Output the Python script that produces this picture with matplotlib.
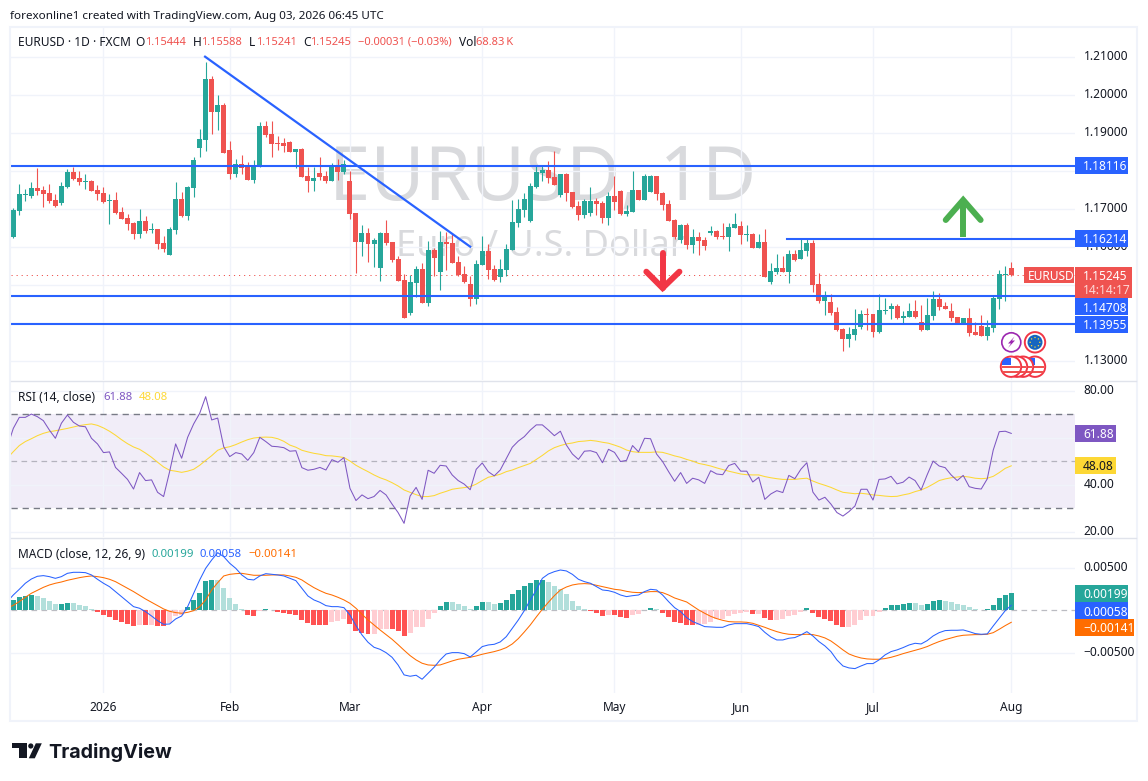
import numpy as np
import matplotlib
matplotlib.use('Agg')
import matplotlib.pyplot as plt
from matplotlib.patches import Circle, Polygon, Rectangle

plt.rcParams['font.family'] = ['Noto Sans', 'DejaVu Sans']

# Daily candles, i = 0 is the first bar on screen
bar_open = [
    1.16264, 1.16939, 1.17360, 1.17334, 1.17544, 1.17492, 1.17413, 1.17228, 1.17149, 1.17571,
    1.17965, 1.17807, 1.17702, 1.17728, 1.17492, 1.17413, 1.17202, 1.17228, 1.16913, 1.16755,
    1.16623, 1.16334, 1.16676, 1.16439, 1.16465, 1.16097, 1.15781, 1.16439, 1.17255, 1.16807,
    1.17544, 1.18597, 1.18807, 1.20413, 1.19544, 1.19728, 1.18544, 1.17913, 1.18176, 1.18097,
    1.17755, 1.18097, 1.19176, 1.18965, 1.18728, 1.18728, 1.18755, 1.18492, 1.18571, 1.17860,
    1.17728, 1.17939, 1.17860, 1.17728, 1.18123, 1.17965,
    1.17729, 1.16887, 1.16124, 1.16360, 1.16071, 1.15439, 1.16360, 1.16124, 1.15676, 1.15124,
    1.14255, 1.15045, 1.15413, 1.14518, 1.15913, 1.15334, 1.16124, 1.16097, 1.15597, 1.15282,
    1.15018, 1.14624, 1.15518, 1.15887, 1.15413, 1.15203, 1.15387, 1.15913, 1.16624, 1.16966,
    1.16676, 1.17571, 1.17939, 1.18018, 1.17834, 1.17360, 1.17913, 1.17439, 1.17071, 1.16834,
    1.16887, 1.17203, 1.17150, 1.16755, 1.17334, 1.17466, 1.16861, 1.16913, 1.17492, 1.17229,
    1.17439, 1.17860, 1.17413, 1.17124, 1.16703, 1.16176,
    1.16571, 1.16045, 1.16255, 1.16176, 1.16360, 1.16413, 1.16281, 1.16255, 1.16492, 1.16545,
    1.16308, 1.16334, 1.15966, 1.16124, 1.15071, 1.15334, 1.15439, 1.15334, 1.15808, 1.15676,
    1.15887, 1.16097, 1.15018, 1.14571, 1.14545, 1.14281, 1.13834, 1.13571, 1.13676, 1.13887,
    1.14229, 1.14229, 1.13755, 1.14308, 1.14360, 1.14439, 1.14124, 1.14150, 1.14308, 1.14018,
    1.13808, 1.14176, 1.14624, 1.14439, 1.14308, 1.14150, 1.13966, 1.14124, 1.13755, 1.13913,
    1.13650, 1.13860, 1.14624, 1.15255, 1.15444,
]
bar_high = [
    1.17009, 1.17649, 1.17518, 1.17702, 1.18071, 1.17597, 1.17649, 1.17386, 1.17702, 1.18044,
    1.18097, 1.17992, 1.17913, 1.17755, 1.17623, 1.17571, 1.17386, 1.17439, 1.17044, 1.16860,
    1.16650, 1.16992, 1.16807, 1.16623, 1.16465, 1.16281, 1.16518, 1.17702, 1.17439, 1.17597,
    1.18360, 1.19097, 1.20860, 1.20492, 1.19992, 1.19781, 1.18781, 1.18307, 1.18413, 1.18228,
    1.18281, 1.19281, 1.19307, 1.19307, 1.18913, 1.18860, 1.18781, 1.18571, 1.18597, 1.18097,
    1.18097, 1.18360, 1.17992, 1.18202, 1.18307, 1.18281,
    1.17992, 1.16887, 1.16571, 1.16492, 1.16229, 1.16387, 1.16703, 1.16124, 1.15755, 1.15282,
    1.15255, 1.15492, 1.15571, 1.16150, 1.15966, 1.16413, 1.16387, 1.16334, 1.15755, 1.15492,
    1.15229, 1.15650, 1.16282, 1.16071, 1.15518, 1.15676, 1.16071, 1.17229, 1.17255, 1.17413,
    1.17676, 1.18124, 1.18124, 1.18255, 1.18518, 1.17913, 1.17939, 1.17439, 1.17203, 1.17255,
    1.17571, 1.17282, 1.17203, 1.17439, 1.17860, 1.17492, 1.17097, 1.17992, 1.17492, 1.17913,
    1.17887, 1.17860, 1.17439, 1.17229, 1.16729, 1.16597,
    1.16624, 1.16466, 1.16387, 1.16255, 1.16545, 1.16439, 1.16624, 1.16624, 1.16887, 1.16676,
    1.16571, 1.16360, 1.16334, 1.16466, 1.15571, 1.15808, 1.15755, 1.15913, 1.15913, 1.16229,
    1.16229, 1.16176, 1.15308, 1.14834, 1.14755, 1.14413, 1.13860, 1.13887, 1.14360, 1.14334,
    1.14387, 1.14229, 1.14755, 1.14650, 1.14518, 1.14492, 1.14308, 1.14518, 1.14597, 1.14466,
    1.14650, 1.14834, 1.14781, 1.14545, 1.14518, 1.14150, 1.14124, 1.14387, 1.14018, 1.14203,
    1.14071, 1.14703, 1.15387, 1.15492, 1.15588,
]
bar_low = [
    1.16228, 1.16834, 1.17202, 1.17281, 1.17360, 1.17044, 1.17149, 1.17044, 1.17097, 1.17544,
    1.17755, 1.17623, 1.17518, 1.17465, 1.17228, 1.17149, 1.16597, 1.16860, 1.16728, 1.16439,
    1.16202, 1.16228, 1.16360, 1.16360, 1.15939, 1.15860, 1.15781, 1.16334, 1.16781, 1.16702,
    1.17307, 1.18360, 1.18518, 1.18965, 1.19071, 1.18465, 1.17781, 1.17834, 1.17913, 1.17755,
    1.17676, 1.18097, 1.18886, 1.18360, 1.18544, 1.18492, 1.18492, 1.18071, 1.17834, 1.17439,
    1.17465, 1.17755, 1.17676, 1.17728, 1.17755, 1.17913,
    1.16729, 1.15308, 1.15755, 1.15597, 1.15466, 1.15097, 1.16045, 1.15597, 1.15097, 1.14124,
    1.14203, 1.14676, 1.14518, 1.14439, 1.15229, 1.14860, 1.15387, 1.15571, 1.15229, 1.15045,
    1.14439, 1.14492, 1.15518, 1.15150, 1.15097, 1.15071, 1.15229, 1.15913, 1.16518, 1.16782,
    1.16650, 1.17545, 1.17729, 1.17676, 1.17624, 1.17308, 1.17203, 1.17018, 1.16703, 1.16755,
    1.16808, 1.16834, 1.16624, 1.16571, 1.16966, 1.16834, 1.16808, 1.16913, 1.17229, 1.17229,
    1.17439, 1.17229, 1.16966, 1.16676, 1.16203, 1.16097,
    1.15939, 1.15834, 1.15781, 1.15913, 1.16308, 1.16202, 1.16202, 1.15887, 1.16492, 1.16071,
    1.16150, 1.15966, 1.15966, 1.15203, 1.15018, 1.15282, 1.15334, 1.15045, 1.15624, 1.15676,
    1.15755, 1.14808, 1.14518, 1.14203, 1.14203, 1.13781, 1.13255, 1.13360, 1.13545, 1.13834,
    1.13808, 1.13624, 1.13729, 1.14229, 1.14097, 1.14097, 1.13966, 1.14150, 1.14124, 1.13781,
    1.13808, 1.14071, 1.14334, 1.14360, 1.14045, 1.13966, 1.13966, 1.13650, 1.13676, 1.13650,
    1.13545, 1.13755, 1.14360, 1.14571, 1.15241,
]
bar_close = [
    1.16965, 1.17386, 1.17386, 1.17544, 1.17465, 1.17386, 1.17202, 1.17071, 1.17597, 1.17965,
    1.17781, 1.17702, 1.17728, 1.17465, 1.17386, 1.17176, 1.17228, 1.16886, 1.16728, 1.16597,
    1.16334, 1.16676, 1.16413, 1.16465, 1.16071, 1.15939, 1.16465, 1.17255, 1.16807, 1.17571,
    1.18281, 1.18834, 1.20413, 1.19544, 1.19728, 1.18465, 1.17913, 1.18176, 1.18071, 1.17755,
    1.18150, 1.19176, 1.18939, 1.18702, 1.18702, 1.18650, 1.18492, 1.18571, 1.17834, 1.17728,
    1.17807, 1.17834, 1.17728, 1.18150, 1.17965, 1.18176,
    1.16861, 1.16124, 1.16360, 1.16071, 1.16176, 1.16360, 1.16097, 1.15650, 1.15097, 1.14124,
    1.15071, 1.15413, 1.14518, 1.15913, 1.15703, 1.16124, 1.16071, 1.15571, 1.15255, 1.15071,
    1.14624, 1.15545, 1.15887, 1.15387, 1.15124, 1.15413, 1.15939, 1.16650, 1.16992, 1.17255,
    1.17597, 1.17966, 1.18018, 1.17808, 1.17624, 1.17913, 1.17413, 1.17045, 1.16834, 1.17203,
    1.17203, 1.17124, 1.16755, 1.17334, 1.17176, 1.16861, 1.16939, 1.17492, 1.17229, 1.17860,
    1.17860, 1.17387, 1.17097, 1.16676, 1.16255, 1.16571,
    1.16045, 1.16255, 1.16150, 1.16018, 1.16413, 1.16255, 1.16255, 1.16518, 1.16597, 1.16308,
    1.16334, 1.15966, 1.16124, 1.15203, 1.15360, 1.15439, 1.15334, 1.15808, 1.15650, 1.15913,
    1.16097, 1.14992, 1.14571, 1.14676, 1.14255, 1.13808, 1.13571, 1.13703, 1.13834, 1.14229,
    1.14203, 1.13755, 1.14334, 1.14334, 1.14439, 1.14124, 1.14176, 1.14308, 1.14150, 1.13808,
    1.14203, 1.14624, 1.14413, 1.14360, 1.14124, 1.13966, 1.14124, 1.13729, 1.13676, 1.13650,
    1.13887, 1.14650, 1.15282, 1.15282, 1.15245,
]

# RSI and its average, from one bar left of the screen (i = -1)
rsi_line = [
    56.2, 64.0, 68.7, 68.7, 70.1, 69.0, 67.3, 63.3, 59.8, 66.2, 69.7, 66.6, 65.0, 64.7, 59.8, 57.4,
    53.7, 54.0, 47.4, 44.9, 42.3, 38.2, 45.2, 41.8, 42.1, 36.8, 35.0, 45.6, 57.4, 51.3, 60.2, 65.9,
    70.4, 77.5, 67.6, 68.4, 56.2, 52.0, 53.7, 53.1, 50.4, 53.7, 60.2, 58.4, 56.4, 56.2, 55.8, 54.3,
    54.5, 47.3, 46.2, 46.6, 47.4, 46.3, 50.7, 49.6, 51.6,
    38.5, 33.3, 35.7, 34.1, 35.0, 37.6, 35.7, 31.8, 28.2, 23.6, 35.2, 38.9, 33.8, 46.2, 44.9, 48.3,
    48.0, 44.2, 41.8, 40.3, 37.9, 46.6, 49.3, 45.6, 43.8, 46.3, 51.1, 56.0, 58.6, 60.5, 63.3, 65.5,
    65.5, 63.3, 60.9, 62.8, 56.9, 53.1, 50.8, 54.3, 54.5, 53.7, 49.4, 55.1, 53.8, 49.9, 50.4, 56.7,
    54.0, 59.8, 59.6, 53.1, 49.9, 45.6, 41.5, 45.2,
    40.6, 42.8, 42.1, 40.6, 46.0, 44.6, 44.3, 48.2, 49.1, 45.8, 45.8, 41.2, 43.2, 33.8, 36.1, 37.5,
    36.7, 44.0, 42.6, 46.6, 49.4, 36.9, 33.5, 34.7, 31.8, 28.2, 26.7, 28.6, 31.0, 38.1, 38.1, 33.5,
    42.3, 42.5, 43.6, 40.4, 41.1, 43.3, 41.8, 37.8, 44.2, 50.1, 48.0, 47.3, 44.2, 41.8, 44.0, 39.2,
    38.5, 38.2, 42.5, 54.8, 62.6, 62.8, 61.88,
]
rsi_avg = [
    51.3, 54.1, 56.7, 58.4, 59.6, 60.9, 61.9, 62.6, 63.0, 63.5, 64.0, 64.6, 65.2, 65.6, 65.9, 65.3,
    64.2, 62.8, 61.1, 59.2, 57.5, 56.1, 55.1, 53.5, 51.7, 49.6, 47.6, 46.2, 45.8, 45.3, 45.8, 46.6,
    48.3, 50.4, 52.4, 54.7, 55.7, 56.2, 57.1, 58.2, 59.2, 59.9, 60.2, 60.3, 60.2, 59.6, 58.5, 56.9,
    56.0, 54.7, 54.0, 53.4, 53.0, 52.4, 52.3, 52.0, 51.6,
    50.1, 48.3, 46.9, 45.6, 44.2, 43.0, 42.1, 40.9, 39.5, 37.8, 36.8, 35.8, 35.0, 35.0, 35.4, 36.4,
    37.2, 38.1, 38.5, 38.8, 39.2, 40.3, 41.8, 43.2, 43.8, 44.5, 45.6, 46.3, 47.3, 48.2, 49.1, 50.8,
    52.5, 54.4, 55.8, 56.7, 57.4, 57.8, 58.4, 58.6, 58.9, 58.6, 58.1, 57.7, 56.9, 56.0, 54.8, 54.1,
    53.8, 53.8, 53.8, 54.0, 53.8, 53.1, 52.3, 51.7, 50.8,
    50.1, 49.1, 48.6, 48.0, 47.2, 46.5, 45.8, 45.2, 44.6, 44.3, 44.2, 44.2, 43.5, 43.0, 42.6, 42.3,
    42.3, 42.3, 42.6, 42.8, 41.6, 40.6, 39.8, 38.9, 37.8, 36.8, 36.5, 36.2, 36.4, 36.1, 35.7, 35.5,
    35.2, 35.0, 35.1, 35.7, 36.2, 37.1, 37.8, 38.9, 40.3, 41.8, 42.5, 43.0, 43.3, 43.6, 43.3, 42.8,
    42.6, 42.8, 43.6, 45.2, 47.0, 48.08,
]

# MACD in points of 0.00001. Lines start at i = -1, histogram at i = 0
macd_line = [
    102, 180, 247, 318, 368, 400, 408, 396, 376, 396, 435, 447, 447, 443, 416, 365, 318, 278, 220, 161,
    102, 43, 24, -16, -67, -122, -165, -161, -102, -67, 43, 200, 357, 494, 592, 678, 631, 553, 494, 416,
    365, 357, 404, 431, 423, 416, 404, 376, 349, 259, 169, 122, 94, 55, 43, 43, 31,
    -55, -180, -290, -376, -435, -459, -498, -553, -643, -760, -776, -764, -811, -741, -670, -584, -514, -498,
    -498, -510, -549, -490, -427, -408, -400, -372, -310, -212, -114, -4, 122, 239, 376, 427, 455, 474, 463,
    423, 365, 337, 318, 278, 239, 231, 212, 180, 161, 172, 180, 220, 247, 239, 180, 102, 31, -16,
    -86, -133, -161, -192, -196, -200, -200, -172, -157, -157, -157, -172, -192, -259, -314, -349, -349, -329,
    -321, -290, -251, -302, -368, -419, -486, -584, -655, -678, -686, -655, -627, -627, -584, -525, -486, -466,
    -439, -408, -388, -396, -357, -302, -263, -239, -235, -235, -231, -251, -274, -282, -278, -184, -94, -4, 58,
]
macd_signal = [
    24, 59, 102, 153, 200, 235, 270, 298, 318, 333, 353, 368, 384, 396, 404, 396, 384, 365, 337, 298,
    259, 220, 176, 133, 94, 55, 16, -12, -27, -35, -24, -4, 43, 122, 239, 325, 404, 423, 431, 435,
    423, 412, 412, 412, 416, 416, 416, 404, 388, 357, 310, 267, 231, 200, 180, 153, 122,
    82, 24, -47, -114, -172, -231, -286, -341, -404, -470, -533, -584, -623, -643, -647, -643, -619, -596,
    -576, -564, -553, -537, -517, -502, -486, -466, -439, -396, -333, -255, -172, -78, 12, 94, 172, 239, 274,
    298, 310, 314, 310, 294, 278, 263, 247, 239, 223, 212, 208, 212, 220, 220, 208, 180, 145, 122,
    98, 51, 4, -35, -71, -98, -118, -133, -137, -137, -141, -153, -176, -200, -227, -251, -270, -282,
    -286, -286, -282, -286, -302, -325, -361, -412, -466, -514, -541, -561, -572, -576, -576, -568, -553, -533,
    -510, -490, -470, -451, -427, -396, -368, -345, -325, -306, -294, -290, -286, -286, -282, -263, -223, -180, -141,
]
macd_hist = [
    122, 157, 169, 180, 169, 145, 110, 71, 74, 86, 82, 63, 51, 16, -24, -55, -78, -114, -137, -161,
    -184, -172, -176, -172, -180, -184, -145, -63, -55, 43, 122, 204, 345, 357, 353, 263, 145, 74, 16, -55,
    -67, -8, 16, 8, -20, -31, -43, -55, -114, -149, -169, -172, -176, -137, -125, -102,
    -161, -243, -267, -278, -274, -220, -216, -220, -243, -302, -267, -196, -192, -102, -31, 51, 98, 94,
    74, 51, 16, 51, 98, 94, 74, 86, 122, 192, 239, 286, 321, 353, 357, 333, 286, 251, 192, 110, 51, 16,
    -8, -31, -67, -55, -59, -78, -90, -55, -43, 4, 27, 16, -31, -78, -137, -149,
    -169, -172, -169, -165, -137, -106, -102, -67, -43, -27, -24, -43, -39, -90, -114, -110, -106, -67, -55, -20,
    27, -31, -78, -102, -125, -172, -196, -192, -172, -114, -67, -63, -20, 27, 63, 67, 74, 86, 82, 63, 74,
    110, 122, 110, 98, 74, 63, 39, 16, 4, 16, 63, 145, 180, 199,
]

# Time axis
month_labels = ['2026', 'Feb', 'Mar', 'Apr', 'May', 'Jun', 'Jul', 'Aug']
month_bars = [15, 36, 56, 78, 100, 121, 143, 166]

# Scale ticks and drawn levels. Ticks with an empty label sit behind a tag in the reference
price_ticks = [1.13, 1.14, 1.15, 1.16, 1.17, 1.18, 1.19, 1.20, 1.21]
price_tick_labels = ['1.13000', '', '', '1.16000', '1.17000', '', '1.19000', '1.20000', '1.21000']
rsi_ticks = [20, 40, 60, 80]
rsi_tick_labels = ['20.00', '40.00', '', '80.00']
macd_ticks = [-0.005, 0.005]
macd_tick_labels = ['\u22120.00500', '0.00500']
level_full = [1.18116, 1.14708, 1.13955]
level_short = 1.16214
last_price = 1.15245

W, H = 1148, 781
BLUE = '#2962ff'
GREEN = '#26a69a'
RED = '#ef5350'
PURPLE = '#7e57c2'
YELLOW = '#fdd835'
ORANGE = '#ff6d00'
GRID = '#f0f3fa'
INK = '#131722'


def pane(y0, y1, ylim, ticks, tick_labels):
    ax = fig.add_axes([11 / W, 1 - y1 / H, (1075 - 11) / W, (y1 - y0) / H])
    ax.set_xlim(-0.383, 176.6)
    ax.set_ylim(*ylim)
    for s in ax.spines.values():
        s.set_visible(False)
    ax.yaxis.tick_right()
    ax.set_xticks(month_bars)
    ax.set_yticks(ticks, tick_labels, va='center')
    ax.set_axisbelow(True)
    ax.grid(True, color=GRID, lw=1.0)
    ax.tick_params(length=0, labelsize=8.6, labelcolor=INK, pad=6.2, labelbottom=False)
    return ax


fig = plt.figure(figsize=(W / 100, H / 100), dpi=100, facecolor='white')

# Price pane
ax = pane(28, 380, (1.12492, 1.21755), price_ticks, price_tick_labels)

o, h, l, c = map(np.array, (bar_open, bar_high, bar_low, bar_close))
x = np.arange(len(c))
cols = np.where(c >= o, GREEN, RED)
ax.vlines(x, l, h, colors=cols, lw=0.8, zorder=3)
ax.bar(x, np.abs(c - o), bottom=np.minimum(o, c), width=0.83, color=cols, lw=0, zorder=3)

for lv in level_full:
    ax.axhline(lv, color=BLUE, lw=1.5, zorder=4)
ax.plot([128.7, 176.6], [level_short, level_short], color=BLUE, lw=1.5, zorder=4)
ax.plot([31.9, 76.0], [1.21, 1.16], color=BLUE, lw=1.6, zorder=4)
ax.axhline(last_price, color=RED, lw=0.7, ls=(0, (1.2, 4)), zorder=2)

# Hand drawn arrows
ax.plot([108, 108], [1.15826, 1.14913], color='#f23645', lw=4.3, zorder=5, solid_capstyle='round')
ax.plot([105.3, 108, 110.8], [1.15342, 1.14913, 1.15342], color='#f23645', lw=4.3, zorder=5,
        solid_capstyle='round', solid_joinstyle='miter')
ax.plot([158, 158], [1.16263, 1.17229], color='#4caf50', lw=4.3, zorder=5, solid_capstyle='butt')
ax.plot([155.1, 158, 160.9], [1.16703, 1.17229, 1.16703], color='#4caf50', lw=4.3, zorder=5,
        solid_capstyle='round', solid_joinstyle='miter')

# RSI pane
ax2 = pane(381, 537, (17.79, 84.17), rsi_ticks, rsi_tick_labels)
xs = np.arange(-1, len(c))
ax2.axhspan(30, 70, color=PURPLE, alpha=0.1, lw=0, zorder=0)
ax2.axhline(70, color='#787b86', lw=1.0, ls=(0, (4.5, 3.5)), zorder=1)
ax2.axhline(30, color='#787b86', lw=1.0, ls=(0, (4.5, 3.5)), zorder=1)
ax2.axhline(50, color='#787b86', lw=0.9, alpha=0.5, ls=(0, (4.5, 3.5)), zorder=1)
ax2.plot(xs, rsi_avg, color=YELLOW, lw=0.75, zorder=3)
ax2.plot(xs, rsi_line, color=PURPLE, lw=0.75, zorder=4)

# MACD pane
ax3 = pane(538, 693, (-0.00973, 0.008506), macd_ticks, macd_tick_labels)
ax3.tick_params(labelbottom=True)
ax3.set_xticklabels(month_labels)
ax3.get_xticklabels()[0].set_fontweight('bold')
ax3.tick_params(axis='x', pad=5.5)
hist = np.array(macd_hist) * 1e-5
prev = np.r_[0, hist[:-1]]
hist_cols = np.where(hist >= 0,
                     np.where(hist > prev, GREEN, '#b2dfdb'),
                     np.where(hist < prev, '#ff5252', '#ffcdd2'))
ax3.axhline(0, color='#787b86', lw=0.9, alpha=0.5, ls=(0, (4.5, 3.5)), zorder=1)
ax3.bar(x, hist, width=0.83, color=hist_cols, lw=0, zorder=2)
ax3.plot(xs, np.array(macd_signal) * 1e-5, color=ORANGE, lw=0.75, zorder=3)
ax3.plot(xs, np.array(macd_line) * 1e-5, color=BLUE, lw=0.75, zorder=4)

# Overlay in pixel coordinates for everything that is chrome, not data
ov = fig.add_axes([0, 0, 1, 1], zorder=10)
ov.set_xlim(0, W)
ov.set_ylim(H, 0)
ov.axis('off')


def label(px, py, s, color=INK, size=8.6, **kw):
    kw.setdefault('ha', 'left')
    kw.setdefault('va', 'center_baseline')
    ov.text(px, py, s, color=color, fontsize=size, **kw)


def box(x0, y0, x1, y1, s, color, tcolor='white'):
    ov.add_patch(Rectangle((x0, y0), x1 - x0, y1 - y0, fc=color, ec='none'))
    label(x0 + 8, (y0 + y1) / 2, s, tcolor)


# Watermark sits under the candles
ax.text(543, 181, 'EURUSD, 1D', color='#d9dadd', fontsize=53.5, ha='center', va='center',
        transform=ov.transData, zorder=0.4)
ax.text(540, 247, 'Euro / U.S. Dollar', color='#d9dadd', fontsize=26, ha='center', va='center',
        transform=ov.transData, zorder=0.4)

# Frame and pane separators
ov.add_patch(Rectangle((10, 27), 1127, 694, fc='none', ec=GRID, lw=1.5))
ov.plot([11, 1136], [380.5, 380.5], color='#e0e3eb', lw=1)
ov.plot([11, 1136], [537.5, 537.5], color='#e0e3eb', lw=1)

# Header texts
label(10, 15, 'forexonline1 created with TradingView.com, Aug 03, 2026 06:45 UTC', size=8.4)
label(18, 41, 'EURUSD \u00b7 1D \u00b7 FXCM')
for px, s in [(135, 'O'), (192.5, 'H'), (249, 'L'), (303, 'C'), (459, 'Vol')]:
    label(px, 41, s)
for px, s in [(145, '1.15444'), (201, '1.15588'), (256, '1.15241'), (310, '1.15245'),
              (358.5, '\u22120.00031 (\u22120.03%)'), (476, '68.83\u2009K')]:
    label(px, 41, s, RED, size=8.0)

label(18, 396, 'RSI (14, close)')
label(103, 396, '61.88', PURPLE, size=8.2)
label(139, 396, '48.08', YELLOW, size=8.2)
label(18, 553, 'MACD (close, 12, 26, 9)')
label(152, 553, '0.00199', GREEN, size=8.2)
label(200, 553, '0.00058', BLUE, size=8.2)
label(248, 553, '\u22120.00141', ORANGE, size=8.2)

# Price scale tags
box(1075, 157, 1127.5, 174, '1.18116', BLUE)
box(1075, 230, 1127.5, 246.7, '1.16214', BLUE)
box(1075, 298.3, 1127.5, 314.7, '1.14708', BLUE)
box(1075, 316, 1127.5, 332.7, '1.13955', BLUE)
ov.add_patch(Rectangle((1075, 267), 57, 30.7, fc=RED, ec='none'))
label(1083, 275, '1.15245', 'white')
label(1083, 289.5, '14:14:17', '#fdd8d7')
ov.add_patch(Rectangle((1024, 267), 50, 16, fc=RED, ec='none'))
label(1028, 275, 'EURUSD', 'white')

box(1075, 425, 1116, 442, '61.88', PURPLE)
box(1075, 457, 1116, 474, '48.08', YELLOW, INK)
box(1075, 585, 1127.5, 602, '0.00199', GREEN)
box(1075, 602, 1127.5, 619, '0.00058', BLUE)
box(1075, 619, 1134, 636, '\u22120.00141', ORANGE)

# Event badges under the last bars
ov.add_patch(Circle((1011.3, 342.3), 9.5, fc='white', ec='#9c27b0', lw=1.2))
ov.add_patch(Polygon([(1014.5, 336.5), (1008, 343.5), (1011, 343.5), (1008, 348), (1015, 340.5), (1012, 340.5)],
                     fc='#9c27b0', ec='none'))
ov.add_patch(Circle((1035, 342.3), 10.2, fc='white', ec='#f23645', lw=1.4))
ov.add_patch(Circle((1035, 342.3), 7.5, fc='#1565c0', ec='none'))
for a in np.arange(0, 360, 45):
    ov.add_patch(Circle((1035 + 4.8 * np.cos(np.radians(a)), 342.3 + 4.8 * np.sin(np.radians(a))), 0.7,
                        fc='#fdd835', ec='none'))

for cx in [1035, 1023, 1017, 1011]:
    ring = Circle((cx, 366.7), 10.2, fc='white', ec='#f23645', lw=1.4, zorder=3)
    ov.add_patch(ring)
    for sy in [365.5, 370.5]:
        st = Rectangle((cx - 9, sy), 18, 2.6, fc='#ef5350', ec='none', zorder=3)
        ov.add_patch(st)
        st.set_clip_path(ring)
    st = Rectangle((cx - 9, 358), 9, 7, fc='#2962ff', ec='none', zorder=3)
    ov.add_patch(st)
    st.set_clip_path(ring)

# TradingView logo
ov.add_patch(Polygon([(12, 743.3), (26.7, 743.3), (26.7, 758.3), (18.7, 758.3), (18.7, 748.3), (12, 748.3)],
                     fc=INK, ec='none'))
ov.add_patch(Circle((30.8, 746), 2.6, fc=INK, ec='none'))
ov.add_patch(Polygon([(35.8, 743.3), (41.8, 743.3), (34.8, 758.3), (28.8, 758.3)], fc=INK, ec='none'))
ov.text(48.5, 751, 'TradingView', color=INK, fontsize=14.2, fontweight='bold', family='Inter',
        ha='left', va='center_baseline')

fig.savefig('out.png', dpi=100, facecolor='white')
